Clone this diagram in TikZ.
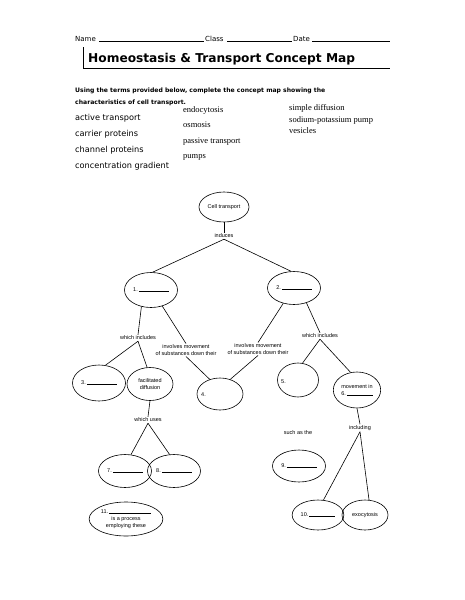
\documentclass[tikz,border=0pt]{standalone}
\usepackage{fontspec}
\setmainfont{Liberation Serif}
\newfontfamily\comic{DejaVu Sans}
\newfontfamily\lab{Liberation Sans}
\usetikzlibrary{shapes.geometric}
\begin{document}
\begin{tikzpicture}[x=1pt,y=-1pt,
  ov/.style={draw,ellipse,inner sep=0pt,line width=0.6pt},
  lbl/.style={font=\lab\fontsize{5.5}{6.5}\selectfont,inner sep=1pt,align=center},
  conn/.style={line width=0.6pt},
]
\useasboundingbox (0,0) rectangle (464,600);
% header
\node[anchor=base west,inner sep=0pt,font=\comic\fontsize{7}{8}\selectfont] (hdr) at (75,41) {Name};
\draw[line width=0.4pt] (99,41.5) -- (204,41.5);
\node[anchor=base west,inner sep=0pt,font=\comic\fontsize{7}{8}\selectfont] (hcl) at (205,41) {Class};
\draw[line width=0.4pt] (227,41.5) -- (292,41.5);
\node[anchor=base west,inner sep=0pt,font=\comic\fontsize{7}{8}\selectfont] (hda) at (293,41) {Date};
\draw[line width=0.4pt] (312,41.5) -- (390,41.5);
% title
\draw[line width=1pt] (83,47) -- (83,68);
\draw[line width=0.4pt] (83,68) -- (390,68);
\node[anchor=base west,inner sep=0pt,font=\comic\bfseries\fontsize{12.2}{14}\selectfont] (title) at (88,62) {Homeostasis \& Transport Concept Map};
% instructions
\node[anchor=base west,inner sep=0pt,font=\comic\bfseries\fontsize{6.1}{8}\selectfont] (ins1) at (75,92) {Using the terms provided below, complete the concept map showing the};
\node[anchor=base west,inner sep=0pt,font=\comic\bfseries\fontsize{6.1}{8}\selectfont] (ins2) at (75,104) {characteristics of cell transport.};
% terms
\foreach \t/\yy/\n in {active transport/120/ta,carrier proteins/136/tb,channel proteins/152/tc,concentration gradient/168/td}{
  \node[anchor=base west,inner sep=0pt,font=\comic\fontsize{8.2}{9}\selectfont] (\n) at (75,\yy) {\t};}
\foreach \t/\yy/\n in {endocytosis/112/te,osmosis/127/tf,passive transport/143/tg,pumps/158/th}{
  \node[anchor=base west,inner sep=0pt,font=\fontsize{8.5}{10}\selectfont] (\n) at (183,\yy) {\t};}
\foreach \t/\yy/\n in {simple diffusion/110/ti,sodium-potassium pump/122/tj,vesicles/133/tk}{
  \node[anchor=base west,inner sep=0pt,font=\fontsize{8.5}{10}\selectfont] (\n) at (289,\yy) {\t};}
% map
\node[ov,minimum width=50pt,minimum height=30pt,lbl] (ct) at (224,207) {Cell transport};
\node[lbl] (ind) at (224,236) {induces};
\node[ov,minimum width=49pt,minimum height=35pt,lbl] (e1) at (151,290) {1.\,\rule{30pt}{0.6pt}};
\node[ov,minimum width=47pt,minimum height=33pt,lbl] (e2) at (294,288) {2.\,\rule{30pt}{0.6pt}};
\node[lbl] (wi1) at (138,338) {which includes};
\node[lbl] (inv1) at (186,350) {involves movement\\of substances down their};
\node[lbl] (inv2) at (258,349) {involves movement\\of substances down their};
\node[lbl] (wi2) at (320,336) {which includes};
\node[ov,minimum width=47pt,minimum height=36pt,lbl] (e3) at (99,383) {3.\,\rule{30pt}{0.6pt}};
\node[ov,minimum width=46pt,minimum height=33pt,lbl] (fd) at (150,384) {facilitated\\diffusion};
\node[ov,minimum width=46pt,minimum height=32pt] (e4) at (220,394) {};
\node[lbl,anchor=west] (n4) at (200,395) {4.};
\node[ov,minimum width=41pt,minimum height=34pt] (e5) at (298,380) {};
\node[lbl,anchor=west] (n5) at (280,382) {5.};
\node[ov,minimum width=44pt,minimum height=36pt,lbl] (e6) at (357,390) {movement in\\6.\,\rule{26pt}{0.6pt}};
\node[lbl] (wu) at (148,420) {which uses};
\node[ov,minimum width=46pt,minimum height=33pt,lbl] (e7) at (125,471) {7.\,\rule{30pt}{0.6pt}};
\node[ov,minimum width=46pt,minimum height=33pt,lbl] (e8) at (174,471) {8.\,\rule{30pt}{0.6pt}};
\node[ov,minimum width=68pt,minimum height=34pt,lbl] (e11) at (126,519) {11.\,\rule{42pt}{0.6pt}\\[1pt]is a process\\employing these};
\node[lbl] (sat) at (298,433) {such as the};
\node[ov,minimum width=48pt,minimum height=32pt,lbl] (e9) at (299,466) {9.\,\rule{30pt}{0.6pt}};
\node[lbl] (incl) at (360,428) {including};
\node[ov,minimum width=44pt,minimum height=30pt,lbl] (e10) at (318,515) {10.\,\rule{26pt}{0.6pt}};
\node[ov,minimum width=46pt,minimum height=30pt,lbl] (exo) at (365,515) {exocytosis};
% connectors
\draw[conn] (ct.south) -- (ind.north);
\draw[conn] (ind.south) -- (e1.85);
\draw[conn] (ind.south) -- (e2.100);
\draw[conn] (e1.240) -- (wi1.north);
\draw[conn] (e1.305) -- (inv1.north);
\draw[conn] (e2.235) -- (inv2.north);
\draw[conn] (e2.310) -- (wi2.north);
\draw[conn] (wi1.south) -- (e3.70);
\draw[conn] (wi1.south) -- (fd.100);
\draw[conn] (fd.south) -- (wu.north);
\draw[conn] (inv1.south) -- (e4.125);
\draw[conn] (inv2.south) -- (e4.55);
\draw[conn] (wi2.south) -- (e5.75);
\draw[conn] (wi2.south) -- (e6.110);
\draw[conn] (e6.south) -- (incl.north);
\draw[conn] (wu.south) -- (e7.70);
\draw[conn] (wu.south) -- (e8.105);
\draw[conn] (incl.south) -- (e10.70);
\draw[conn] (incl.south) -- (exo.75);
\end{tikzpicture}
\end{document}
